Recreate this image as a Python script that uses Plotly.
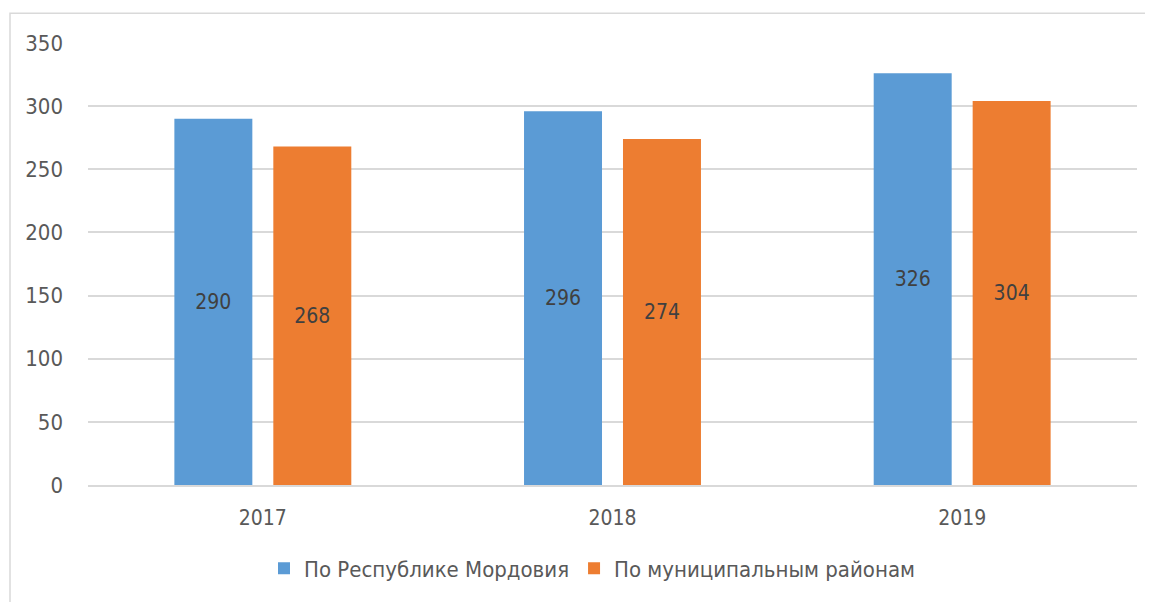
import plotly.graph_objects as go

years = ["2017", "2018", "2019"]
republic = [290, 296, 326]
municipal = [268, 274, 304]
names = ["По Республике Мордовия", "По муниципальным районам"]
y_ticks = [0, 50, 100, 150, 200, 250, 300, 350]

FONT = "Liberation Sans Narrow, DejaVu Sans Condensed, Arial Narrow, sans-serif"

fig = go.Figure()
for vals, name, color in [(republic, names[0], "#5B9BD5"), (municipal, names[1], "#ED7D31")]:
    fig.add_trace(go.Bar(
        x=years, y=vals, name=name, marker=dict(color=color, line=dict(width=0)),
        text=[str(v) for v in vals], textposition="inside", insidetextanchor="middle",
        textangle=0, textfont=dict(color="#404040", size=21, family=FONT),
    ))

# page has an 8px body margin; compensate so the plot lands where the reference has it
OFF = 8
W, H = 1153 - OFF, 602 - OFF
L, T = 88 - OFF, 43 - OFF
R = W - (1137 - OFF)
B = H - (488 - OFF)
pw = W - L - R
ph = H - T - B

fig.update_layout(
    width=W, height=H,
    margin=dict(l=L, r=R, t=T, b=B),
    paper_bgcolor="white", plot_bgcolor="white",
    barmode="group", bargap=0.434, bargroupgap=0.212,
    font=dict(family=FONT, color="#595959", size=21),
    showlegend=True,
    legend=dict(orientation="h", x=(592 - 88) / pw, xanchor="center", y=(488 - 572) / ph,
                yanchor="middle", font=dict(size=22, color="#595959"),
                itemwidth=30, traceorder="normal"),
    xaxis=dict(showgrid=False, showline=True, linecolor="#d9d9d9", linewidth=1.5,
               ticks="", tickfont=dict(size=21, color="#595959"), ticklabelstandoff=13),
    yaxis=dict(range=[0, 350], tickvals=y_ticks, showgrid=True, gridcolor="#d9d9d9",
               gridwidth=1.5, zeroline=False, showline=False, ticks="",
               tickfont=dict(size=22, color="#595959"), ticklabelstandoff=24),
    shapes=[dict(type="rect", xref="paper", yref="paper",
                 x0=(10 - 88) / pw, x1=1.2, y0=-0.5, y1=(488 - 13) / ph,
                 line=dict(color="#d9d9d9", width=1.5), fillcolor="rgba(0,0,0,0)",
                 layer="below")],
)

fig.write_html("out.html")
